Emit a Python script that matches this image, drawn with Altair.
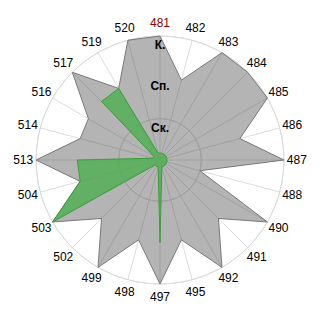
import altair as alt
import pandas as pd

# Radar of 24 stations: overall level (grey) and the selected subset (green)
categories = ["481", "482", "483", "484", "485", "486", "487", "488",
              "490", "491", "492", "495", "497", "498", "499", "502",
              "503", "504", "513", "514", "516", "517", "519", "520"]
overall = [3, 2, 3, 3, 3, 2, 3, 1,
           3, 2, 3, 2, 3, 2, 3, 2,
           3, 2, 3, 2, 2, 3, 2, 3]
selected = [0.17, 0.17, 0.17, 0.17, 0.17, 0.17, 0.17, 0.17,
            0.17, 0.17, 0.17, 0.17, 2, 0.17, 0.17, 0.17,
            3, 2, 2, 0.17, 0.17, 2, 2, 0.17]
level_names = ["Ск.", "Сп.", "К."]
level_values = [1, 2, 3]

N = len(categories)
R_MAX = 3
HALF = 3.871          # half-extent of the square plot in data units
LABEL_R = 3.31        # radius for category labels
FONT = "Liberation Sans, Arial, sans-serif"

df = pd.DataFrame({"cat": categories, "idx": list(range(N)),
                   "overall": overall, "selected": selected})
levels = pd.DataFrame({"name": level_names, "level": level_values})

xs = alt.Scale(domain=[-HALF, HALF], nice=False, zero=False)
ys = alt.Scale(domain=[-HALF, HALF], nice=False, zero=False)

base = alt.Chart(df).transform_calculate(
    theta=f"datum.idx * 2 * PI / {N}"
)

# concentric grid rings
rings = alt.Chart(levels).mark_arc(
    filled=False, stroke="#dcdcdc", strokeWidth=1, theta=0, theta2=6.2832
).encode(
    radius=alt.Radius("level:Q", scale=alt.Scale(type="linear", domain=[0, HALF], range=[0, 160], zero=True))
)

# radial spokes
spokes = base.transform_calculate(
    zx="0", zy="0",
    sx=f"{R_MAX} * sin(datum.theta)",
    sy=f"{R_MAX} * cos(datum.theta)"
).mark_rule(color="#dcdcdc", strokeWidth=1).encode(
    x=alt.X("zx:Q", scale=xs, axis=None),
    y=alt.Y("zy:Q", scale=ys, axis=None),
    x2="sx:Q", y2="sy:Q"
)

gray_poly = base.transform_calculate(
    px="datum.overall * sin(datum.theta)",
    py="datum.overall * cos(datum.theta)"
).mark_line(
    interpolate="linear-closed", fill="#505050", fillOpacity=0.43,
    stroke="#787878", strokeWidth=1
).encode(
    x=alt.X("px:Q", scale=xs, axis=None),
    y=alt.Y("py:Q", scale=ys, axis=None),
    order="idx:Q"
)

green_poly = base.transform_calculate(
    px="datum.selected * sin(datum.theta)",
    py="datum.selected * cos(datum.theta)"
).mark_line(
    interpolate="linear-closed", fill="#4caf50", fillOpacity=0.8,
    stroke="#3c9e3c", strokeWidth=1
).encode(
    x=alt.X("px:Q", scale=xs, axis=None),
    y=alt.Y("py:Q", scale=ys, axis=None),
    order="idx:Q"
)

level_text = alt.Chart(levels).transform_calculate(zx="0").mark_text(
    font=FONT, fontSize=12, fontWeight="bold", color="#000000", dy=9
).encode(
    x=alt.X("zx:Q", scale=xs, axis=None),
    y=alt.Y("level:Q", scale=ys, axis=None),
    text="name:N"
)

cat_text = base.transform_calculate(
    lx=f"{LABEL_R} * sin(datum.theta)",
    ly=f"{LABEL_R} * cos(datum.theta)"
).mark_text(font=FONT, fontSize=12).encode(
    x=alt.X("lx:Q", scale=xs, axis=None),
    y=alt.Y("ly:Q", scale=ys, axis=None),
    text="cat:N",
    color=alt.condition(alt.datum.cat == "481", alt.value("#8b0000"), alt.value("#000000"))
)

chart = alt.layer(
    rings, spokes, gray_poly, green_poly, level_text, cat_text
).properties(
    width=320, height=320, padding=0, autosize="none", background="white"
).configure_view(stroke=None)

chart.save("out.html", embed_options={"renderer": "svg", "actions": False})
